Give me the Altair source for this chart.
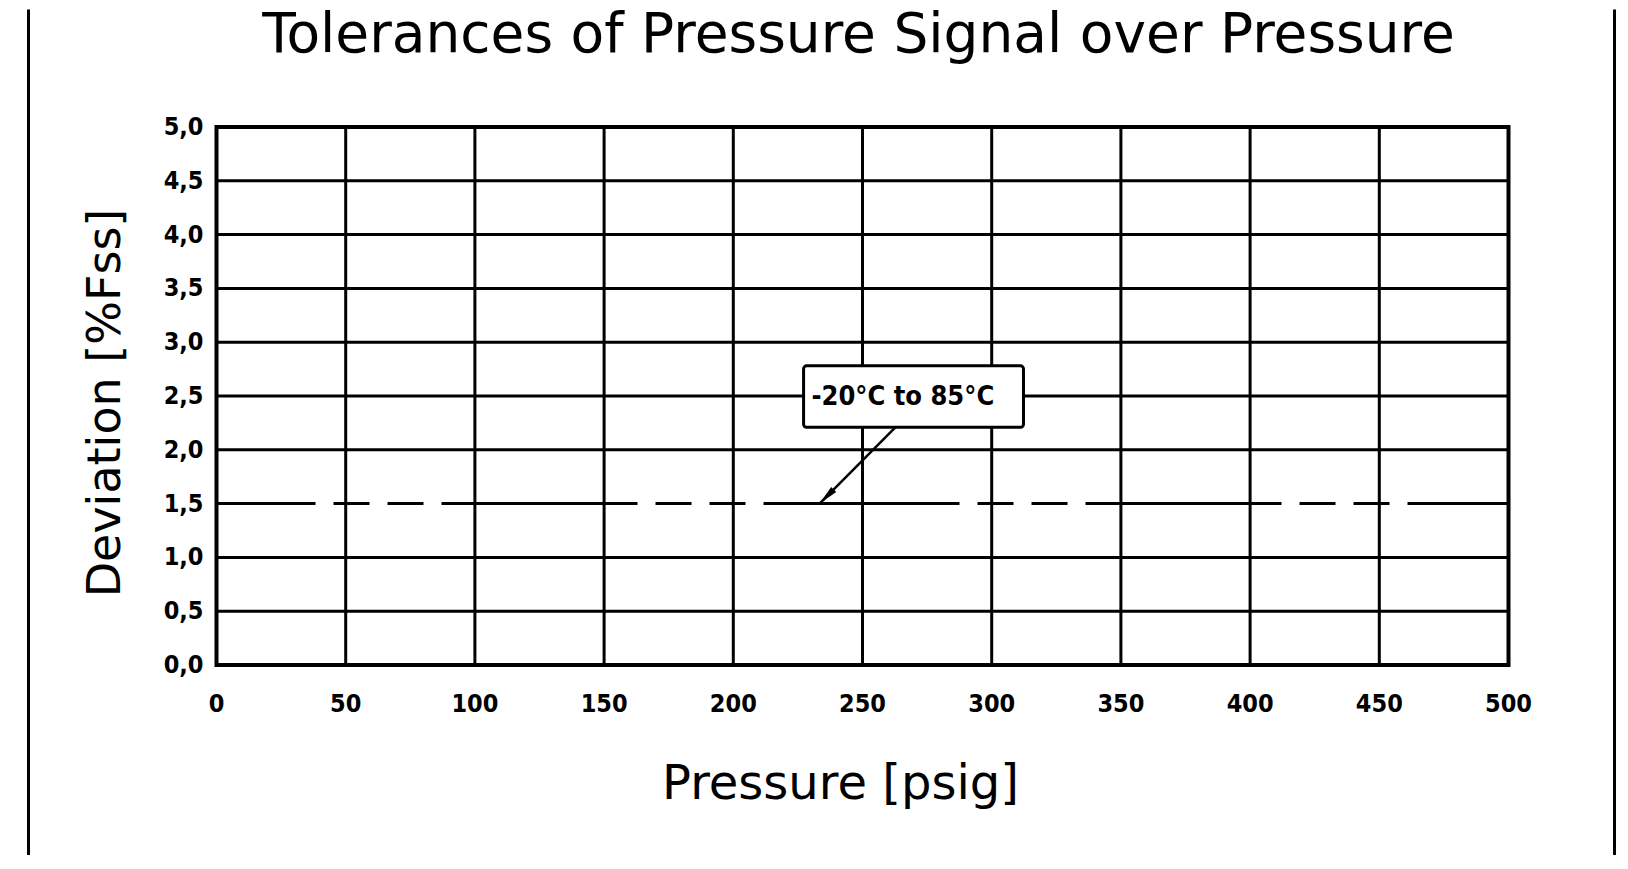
import altair as alt
import pandas as pd

# ---- data ----
x_ticks = [0, 50, 100, 150, 200, 250, 300, 350, 400, 450, 500]
y_ticks = [0.0, 0.5, 1.0, 1.5, 2.0, 2.5, 3.0, 3.5, 4.0, 4.5, 5.0]
y_grid = [0.0, 0.5, 1.0, 2.0, 2.5, 3.0, 3.5, 4.0, 4.5, 5.0]
tol_pressure = [0, 500]
tol_deviation = [1.5, 1.5]
note_text = "-20°C to 85°C"
note_box_x = [227.2, 312.3]
note_box_y = [2.21, 2.78]
note_text_xy = [265.6, 2.49]
arrow_x = [262.8, 233.4]
arrow_y = [2.21, 1.5]
title_text = "Tolerances of Pressure Signal over Pressure"
x_title = "Pressure [psig]"
y_title = "Deviation [%Fss]"

W, H = 1292, 538
LABEL_FONT = "DejaVu Sans Condensed"
TEXT_FONT = "DejaVu Sans"
GRID_W = 3

xs = alt.Scale(domain=[0, 500], nice=False, zero=False)
ys = alt.Scale(domain=[0, 5], nice=False, zero=False)

one = pd.DataFrame({"k": [0]})
vgrid_df = pd.DataFrame({"p": x_ticks})
hgrid_df = pd.DataFrame({"dev": y_grid})
xlab_df = pd.DataFrame({"p": x_ticks, "lab": [str(v) for v in x_ticks]})
ylab_df = pd.DataFrame({"dev": y_ticks,
                        "lab": [f"{v:.1f}".replace(".", ",") for v in y_ticks]})
tol_df = pd.DataFrame({"p": tol_pressure, "dev": tol_deviation})
box_df = pd.DataFrame({"x1": [note_box_x[0]], "x2": [note_box_x[1]],
                       "y1": [note_box_y[0]], "y2": [note_box_y[1]]})
txt_df = pd.DataFrame({"p": [note_text_xy[0]], "dev": [note_text_xy[1]], "t": [note_text]})
arrow_df = pd.DataFrame({"p": arrow_x, "dev": arrow_y, "o": [0, 1]})
head_df = pd.DataFrame({"p": [arrow_x[1]], "dev": [arrow_y[1]]})

X = lambda f: alt.X(f, scale=xs, axis=None)
Y = lambda f: alt.Y(f, scale=ys, axis=None)

vgrid = alt.Chart(vgrid_df).mark_rule(color="black", strokeWidth=GRID_W).encode(x=X("p:Q"))
hgrid = alt.Chart(hgrid_df).mark_rule(color="black", strokeWidth=GRID_W).encode(y=Y("dev:Q"))

xlabels = alt.Chart(xlab_df).mark_text(
    font=LABEL_FONT, fontSize=25, fontWeight="bold", color="black",
    align="center", baseline="alphabetic", dy=47,
).encode(x=X("p:Q"), y=alt.Y(datum=0, scale=ys, axis=None), text="lab:N")

ylabels = alt.Chart(ylab_df).mark_text(
    font=LABEL_FONT, fontSize=25, fontWeight="bold", color="black",
    align="right", baseline="middle", dx=-13,
).encode(x=alt.X(datum=0, scale=xs, axis=None), y=Y("dev:Q"), text="lab:N")

tol = alt.Chart(tol_df).mark_line(
    color="black", strokeWidth=GRID_W,
    strokeDash=[196, 18, 36, 18, 36, 18], strokeDashOffset=97,
).encode(x=X("p:Q"), y=Y("dev:Q"))

arrow = alt.Chart(arrow_df).mark_line(color="black", strokeWidth=2.5).encode(
    x=X("p:Q"), y=Y("dev:Q"), order="o:Q"
)

head = alt.Chart(head_df).mark_point(
    shape="M0,0 L-0.36,2 L0.36,2 Z", filled=True, color="black",
    opacity=1, size=400, angle=225,
).encode(x=X("p:Q"), y=Y("dev:Q"))

box = alt.Chart(box_df).mark_rect(
    fill="white", stroke="black", strokeWidth=3, cornerRadius=3
).encode(x=X("x1:Q"), x2="x2:Q", y=Y("y1:Q"), y2="y2:Q")

txt = alt.Chart(txt_df).mark_text(
    font=LABEL_FONT, fontSize=27, fontWeight="bold", color="black",
    align="center", baseline="middle",
).encode(x=X("p:Q"), y=Y("dev:Q"), text="t:N")

title = alt.Chart(one).mark_text(
    font=TEXT_FONT, fontSize=55, fontWeight="normal", color="black",
    align="center", baseline="alphabetic",
).encode(x=alt.value(642), y=alt.value(-75), text=alt.value(title_text))

xtitle = alt.Chart(one).mark_text(
    font=TEXT_FONT, fontSize=48, fontWeight="normal", color="black",
    align="center", baseline="alphabetic",
).encode(x=alt.value(624), y=alt.value(H + 134), text=alt.value(x_title))

ytitle = alt.Chart(one).mark_text(
    font=TEXT_FONT, fontSize=46, fontWeight="normal", color="black",
    align="center", baseline="alphabetic", angle=270,
).encode(x=alt.value(-97), y=alt.value(276), text=alt.value(y_title))

frame_left = alt.Chart(one).mark_rule(color="black", strokeWidth=3).encode(
    x=alt.value(-188), y=alt.value(-117.5), y2=alt.value(728)
)
frame_right = alt.Chart(one).mark_rule(color="black", strokeWidth=3).encode(
    x=alt.value(1398), y=alt.value(-117.5), y2=alt.value(728)
)

chart = alt.layer(
    vgrid, hgrid, tol, arrow, box, txt, head,
    xlabels, ylabels, title, xtitle, ytitle, frame_left, frame_right
).properties(
    width=W, height=H,
    padding={"left": 18.5, "top": 0, "right": 3, "bottom": 0},
    background="white",
).configure_view(
    stroke="black", strokeWidth=4
)

chart.save("out.html", embed_options={"renderer": "svg", "actions": False})
